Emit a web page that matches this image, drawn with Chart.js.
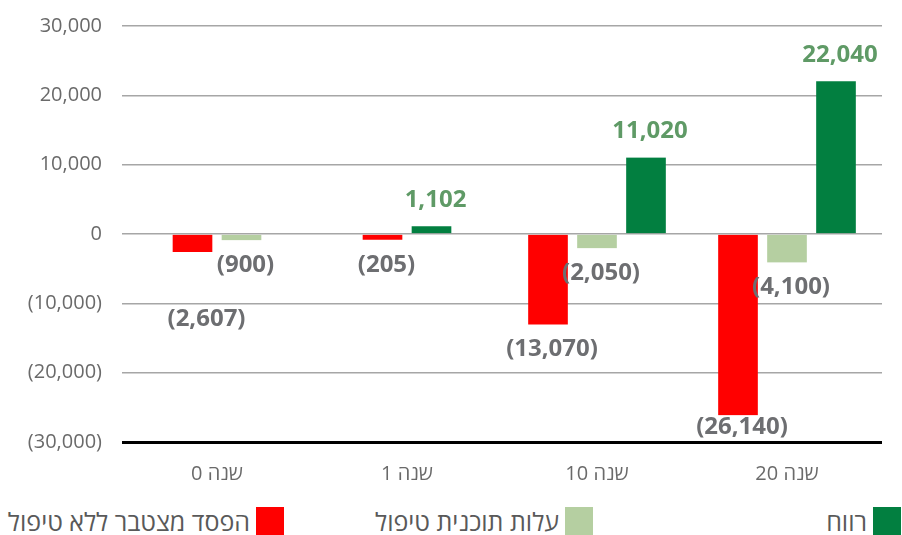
<!DOCTYPE html>
<html>

<head>
    <meta charset="utf-8">
    <title>רווח מול עלות</title>
    <script src="https://cdn.jsdelivr.net/npm/chart.js"></script>
    <style>
        * {
            margin: 0;
            padding: 0;
            box-sizing: border-box;
        }

        body {
            background-color: white;
            width: 902px;
            height: 535px;
            overflow: hidden;
            position: relative;
            font-family: "Open Sans", sans-serif;
        }

        .chart-container {
            position: absolute;
            left: 0;
            top: 0;
            width: 902px;
            height: 495px;
        }

        .legend-item {
            position: absolute;
            top: 507px;
            display: flex;
            direction: rtl;
            align-items: center;
            height: 28px;
        }

        .legend-box {
            width: 28px;
            height: 28px;
            margin-left: 6px;
        }

        .legend-text {
            font-size: 25px;
            color: #595959;
            line-height: 28px;
            white-space: nowrap;
        }
    </style>
</head>

<body>
    <div class="chart-container">
        <canvas id="profitChart"></canvas>
    </div>
    <div id="legend"></div>

    <script>
        const categories = ['שנה 0', 'שנה 1', 'שנה 10', 'שנה 20'];

        const lossName = 'הפסד מצטבר ללא טיפול';
        const costName = 'עלות תוכנית טיפול';
        const profitName = 'רווח';

        // bar heights as drawn
        const lossValues = [-2607, -820, -13070, -26140];
        const costValues = [-900, null, -2050, -4100];
        const profitValues = [null, 1102, 11020, 22040];

        // numbers printed on the bars
        const lossLabels = [-2607, -205, -13070, -26140];
        const costLabels = [-900, null, -2050, -4100];
        const profitLabels = [null, 1102, 11020, 22040];

        const yTicks = [-30000, -20000, -10000, 0, 10000, 20000, 30000];

        function fmt(v) {
            const s = Math.abs(v).toLocaleString('en-US');
            return v < 0 ? '(' + s + ')' : s;
        }

        // numbers above / below the bars, pushed down when two would collide
        const valueLabels = {
            id: 'valueLabels',
            afterDatasetsDraw(chart) {
                const ctx = chart.ctx;
                const bottom = chart.chartArea.bottom;
                ctx.save();
                ctx.font = 'bold 24px "Open Sans"';
                ctx.textAlign = 'center';
                ctx.textBaseline = 'middle';
                const placed = [];
                for (let i = chart.data.datasets.length - 1; i >= 0; i--) {
                    const ds = chart.data.datasets[i];
                    const meta = chart.getDatasetMeta(i);
                    meta.data.forEach((bar, j) => {
                        const v = ds.printed[j];
                        if (v === null || v === undefined) return;
                        const text = fmt(v);
                        const w = ctx.measureText(text).width;
                        let x = bar.x + 4;
                        let y;
                        if (v >= 0) {
                            ctx.fillStyle = '#5f9a66';
                            y = bar.y - 26;
                        } else {
                            ctx.fillStyle = '#6d6e71';
                            y = Math.min(bar.y + 25, bottom - 15);
                            placed.forEach(p => {
                                if (Math.abs(p.x - x) < (p.w + w) / 2 && Math.abs(p.y - y) < 28) {
                                    y = p.y + 54;
                                    x += 10;
                                }
                            });
                        }
                        placed.push({ x, y, w });
                        ctx.fillText(text, x, y);
                    });
                }
                ctx.restore();
            }
        };

        const sideGap = { left: 5, right: 5, top: 0, bottom: 0 };

        const chart = new Chart(document.getElementById('profitChart'), {
            type: 'bar',
            data: {
                labels: categories,
                datasets: [
                    {
                        label: lossName,
                        data: lossValues,
                        printed: lossLabels,
                        backgroundColor: '#ff0000',
                        borderColor: 'rgba(0,0,0,0)',
                        borderWidth: sideGap,
                        borderSkipped: false
                    },
                    {
                        label: costName,
                        data: costValues,
                        printed: costLabels,
                        backgroundColor: '#b5cfa1',
                        borderColor: 'rgba(0,0,0,0)',
                        borderWidth: sideGap,
                        borderSkipped: false
                    },
                    {
                        label: profitName,
                        data: profitValues,
                        printed: profitLabels,
                        backgroundColor: '#027f40',
                        borderColor: 'rgba(0,0,0,0)',
                        borderWidth: sideGap,
                        borderSkipped: false
                    }
                ]
            },
            options: {
                responsive: true,
                maintainAspectRatio: false,
                animation: false,
                skipNull: true,
                barThickness: 49,
                layout: {
                    padding: { top: 26, right: 20, left: 0, bottom: 0 }
                },
                scales: {
                    x: {
                        grid: { display: false },
                        border: { display: false },
                        ticks: {
                            color: '#6a6a6a',
                            font: { family: 'Open Sans', size: 20 },
                            padding: 12
                        },
                        afterFit(scale) {
                            scale.height = 53;
                        }
                    },
                    y: {
                        min: -30000,
                        max: 30000,
                        afterBuildTicks(scale) {
                            scale.ticks = yTicks.map(v => ({ value: v }));
                        },
                        border: { display: false },
                        grid: {
                            drawTicks: false,
                            color: ctx => ctx.tick && ctx.tick.value === -30000 ? '#000000' : '#a6a6a6',
                            lineWidth: ctx => ctx.tick && ctx.tick.value === -30000 ? 3 : 1.5
                        },
                        ticks: {
                            color: '#6a6a6a',
                            font: { family: 'Open Sans', size: 20 },
                            padding: 20,
                            callback: v => fmt(v)
                        },
                        afterFit(scale) {
                            scale.width = 122;
                            scale.paddingTop = 0;
                            scale.paddingBottom = 0;
                        }
                    }
                },
                plugins: {
                    legend: { display: false },
                    tooltip: { enabled: false }
                }
            },
            plugins: [valueLabels]
        });

        // legend, right to left: profit, cost, loss
        const legendRight = [618, 309, 1];
        const legendEl = document.getElementById('legend');
        chart.data.datasets.forEach((ds, idx) => {
            const item = document.createElement('div');
            item.className = 'legend-item';
            item.style.right = legendRight[idx] + 'px';
            const box = document.createElement('span');
            box.className = 'legend-box';
            box.style.backgroundColor = ds.backgroundColor;
            const text = document.createElement('span');
            text.className = 'legend-text';
            text.textContent = ds.label;
            item.appendChild(box);
            item.appendChild(text);
            legendEl.appendChild(item);
        });
    </script>
</body>

</html>
